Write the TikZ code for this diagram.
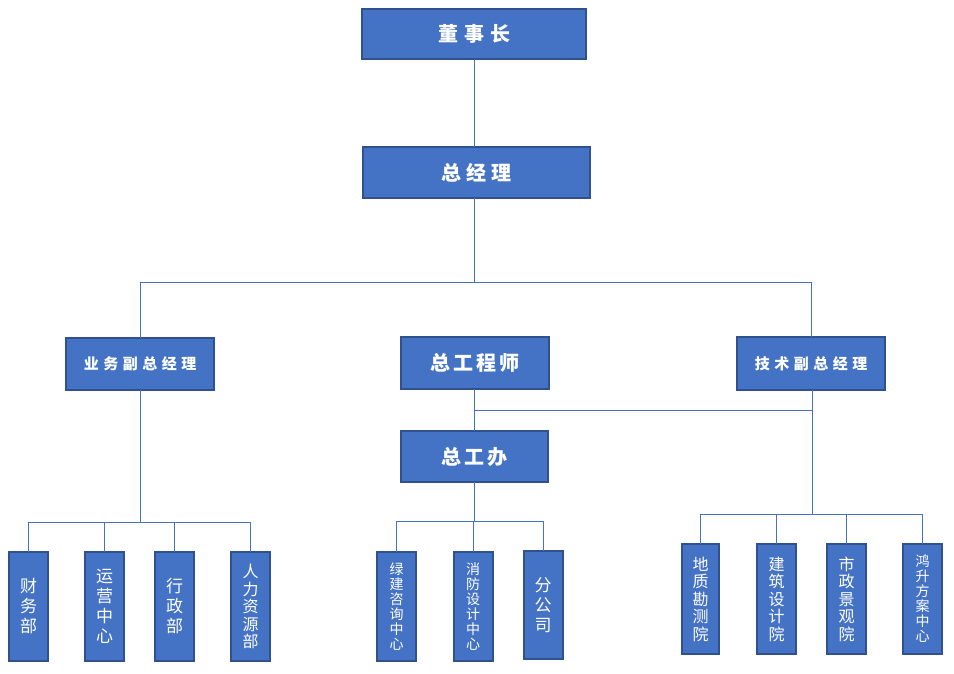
\documentclass[tikz,border=0pt]{standalone}
\usepackage{fontspec}
\newfontfamily\cjk{Noto Sans CJK SC}
\definecolor{boxfill}{HTML}{4472C4}
\definecolor{boxline}{HTML}{2F528F}
\definecolor{linkc}{HTML}{4472C4}
\newcommand\gapA{\hspace{6pt}}
\newcommand\gapB{\hspace{4.5pt}}
\newcommand\gapC{\hspace{3pt}}
\begin{document}
\begin{tikzpicture}[x=1pt,y=-1pt,
  box/.style={draw=boxline, fill=boxfill, line width=2pt, text=white, inner sep=0pt, outer sep=0pt},
  hbig/.style={box, font=\cjk\bfseries\fontsize{20}{24}\selectfont},
  hsmall/.style={box, font=\cjk\bfseries\fontsize{15}{18}\selectfont},
  vbox/.style={box, minimum width=39pt, minimum height=109pt, align=center},
  vA/.style={vbox, font=\cjk\fontsize{17}{20}\selectfont},
  vB/.style={vbox, font=\cjk\fontsize{16}{17.5}\selectfont},
  vC/.style={vbox, font=\cjk\fontsize{14}{15}\selectfont},
  conn/.style={draw=linkc, line width=1pt}]
\useasboundingbox (0,0) rectangle (954,673);

% top levels
\node[hbig, minimum width=224pt, minimum height=50pt] (dsz) at (474,34) {董\gapA 事\gapA 长};
\node[hbig, minimum width=227pt, minimum height=51pt] (zjl) at (476.5,172.5) {总\hspace{5pt}经\hspace{5pt}理};
\node[hsmall, minimum width=148pt, minimum height=52pt] (ywf) at (140,364) {业\gapB 务\gapB 副\gapB 总\gapB 经\gapB 理};
\node[hbig, minimum width=148pt, minimum height=52pt] (zgcs) at (475,363) {总\gapC 工\gapC 程\gapC 师};
\node[hsmall, minimum width=148pt, minimum height=53pt] (jsf) at (811,363.5) {技\gapB 术\gapB 副\gapB 总\gapB 经\gapB 理};
\node[hbig, minimum width=147pt, minimum height=51pt] (zgb) at (474.5,456.5) {总\gapC 工\gapC 办};

% bottom left
\node[vA] (cwb) at (28.5,606.5) {财\\务\\部};
\node[vA] (yyzx) at (104.5,606.5) {运\\营\\中\\心};
\node[vA] (xzb) at (174.5,606.5) {行\\政\\部};
\node[vB] (rlzy) at (250.5,606.5) {人\\力\\资\\源\\部};

% bottom middle
\node[vC] (ljzx) at (396.5,606.5) {绿\\建\\咨\\询\\中\\心};
\node[vC] (xfsj) at (473,606.5) {消\\防\\设\\计\\中\\心};
\node[vA, minimum height=108pt] (fgs) at (543,605) {分\\公\\司};

% bottom right
\node[vB, minimum width=37pt, minimum height=110pt] (dzkc) at (700.5,599) {地\\质\\勘\\测\\院};
\node[vB, minimum height=110pt] (jzsj) at (776.5,599) {建\\筑\\设\\计\\院};
\node[vB, minimum height=110pt] (szjg) at (846.5,599) {市\\政\\景\\观\\院};
\node[vC, minimum height=110pt] (hsfa) at (922.5,599) {鸿\\升\\方\\案\\中\\心};

% junction points
\coordinate (h1) at (474,282);
\coordinate (m1) at (474,410);
\coordinate (lb) at (140,522);
\coordinate (mb) at (474,521);
\coordinate (rb) at (812,514);

% connectors
\draw[conn] (dsz.south) -- (dsz.south |- zjl.north);
\draw[conn] (zjl.south -| h1) -- (h1);
\draw[conn] (ywf.north) -- (ywf.north |- h1) -- (jsf.north |- h1) -- (jsf.north);
\draw[conn] (zgcs.south -| m1) -- (zgb.north -| m1);
\draw[conn] (m1) -- (m1 -| rb);
\draw[conn] (jsf.south -| rb) -- (rb);

\draw[conn] (ywf.south) -- (lb);
\draw[conn] (cwb.north) -- (cwb.north |- lb) -- (rlzy.north |- lb) -- (rlzy.north);
\draw[conn] (yyzx.north) -- (yyzx.north |- lb);
\draw[conn] (xzb.north) -- (xzb.north |- lb);

\draw[conn] (zgb.south -| mb) -- (mb);
\draw[conn] (ljzx.north) -- (ljzx.north |- mb) -- (fgs.north |- mb) -- (fgs.north);
\draw[conn] (xfsj.north) -- (xfsj.north |- mb);

\draw[conn] (dzkc.north) -- (dzkc.north |- rb) -- (hsfa.north |- rb) -- (hsfa.north);
\draw[conn] (jzsj.north) -- (jzsj.north |- rb);
\draw[conn] (szjg.north) -- (szjg.north |- rb);
\end{tikzpicture}
\end{document}
